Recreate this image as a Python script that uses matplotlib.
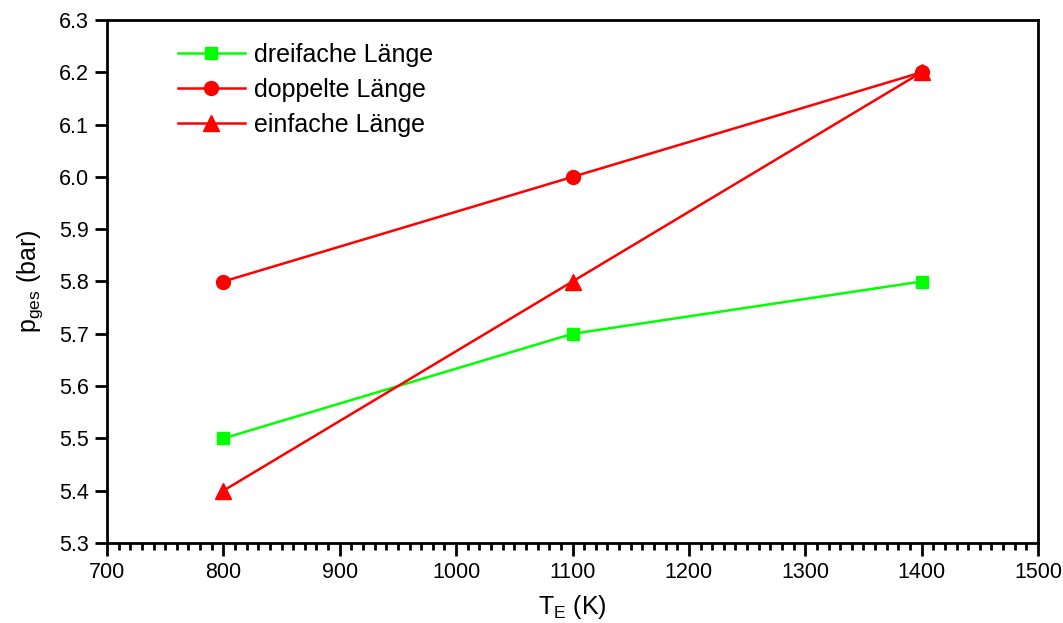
import matplotlib
matplotlib.use('Agg')
import matplotlib.pyplot as plt
from matplotlib.ticker import MultipleLocator

plt.rcParams['font.family'] = ['Liberation Sans', 'DejaVu Sans']

# Temperatur T_E in K
temps = [800, 1100, 1400]
# Gesamtdruck p_ges in bar
dreifach = [5.5, 5.7, 5.8]
doppelt = [5.8, 6.0, 6.2]
einfach = [5.4, 5.8, 6.2]

fig = plt.figure(figsize=(10.63, 6.23), dpi=100)
ax = fig.add_axes([107 / 1063, 1 - 543 / 623, (1038 - 107) / 1063, (543 - 20) / 623])

ax.plot(temps, dreifach, color=(0, 1, 0), marker='s', markersize=9, lw=1.8, label='dreifache Länge')
ax.plot(temps, doppelt, color=(1, 0, 0), marker='o', markersize=10, lw=1.8, label='doppelte Länge')
ax.plot(temps, einfach, color=(1, 0, 0), marker='^', markersize=11, lw=1.8, label='einfache Länge')

ax.set_xlim(700, 1500)
ax.set_ylim(5.3, 6.3)
ax.xaxis.set_major_locator(MultipleLocator(100))
ax.xaxis.set_minor_locator(MultipleLocator(10))
ax.yaxis.set_major_locator(MultipleLocator(0.1))
ax.yaxis.set_major_formatter(matplotlib.ticker.FormatStrFormatter('%.1f'))

ax.tick_params(axis='both', which='major', direction='out', length=9, width=2, labelsize=15.5)
ax.tick_params(axis='x', which='minor', direction='out', length=5, width=2)
ax.tick_params(axis='x', which='major', pad=5)
ax.tick_params(axis='y', which='major', pad=4)
for s in ax.spines.values():
    s.set_linewidth(2)

ax.set_xlabel('T$_{\\mathregular{E}}$ (K)', fontsize=18, labelpad=7)
ax.set_ylabel('p$_{\\mathregular{ges}}$ (bar)', fontsize=18, labelpad=10)

ax.legend(loc='upper left', bbox_to_anchor=(0.057, 0.99), frameon=False, fontsize=18,
          handlelength=2.7, handletextpad=0.35, labelspacing=0.45, borderaxespad=0.3)

fig.savefig('out.png', dpi=100)
